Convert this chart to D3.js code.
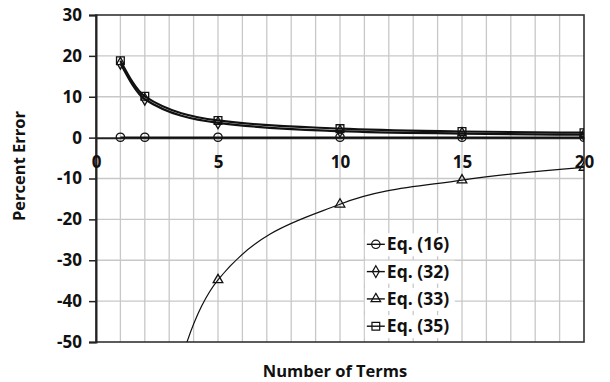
<!DOCTYPE html>
<html>
<head>
<meta charset="utf-8">
<script src="https://cdn.jsdelivr.net/npm/d3@7"></script>
<style>
  body { margin: 0; background: #fff; }
  text { font-family: "Open Sans", sans-serif; font-weight: 700; fill: #111; }
</style>
</head>
<body>
<svg id="chart" width="610" height="382"></svg>
<script>
const terms = [1, 2, 5, 10, 15, 20];
const eq16 = [0.1, 0.1, 0.1, 0.1, 0.1, 0.1];
const eq32 = [18.2, 9.4, 3.6, 1.6, 1.0, 0.7];
const eq33 = [-200, -102, -34.8, -16.3, -10.4, -7.3];
const eq35 = [18.8, 10.1, 4.2, 2.2, 1.5, 1.2];
const seriesNames = ['Eq. (16)', 'Eq. (32)', 'Eq. (33)', 'Eq. (35)'];
const xTicks = [0, 5, 10, 15, 20];
const yTicks = [30, 20, 10, 0, -10, -20, -30, -40, -50];

const series = [
  { name: seriesNames[0], values: eq16, symbol: 'circle', width: 1.6 },
  { name: seriesNames[1], values: eq32, symbol: 'diamond', width: 2.2 },
  { name: seriesNames[2], values: eq33, symbol: 'triangle', width: 1.2 },
  { name: seriesNames[3], values: eq35, symbol: 'square', width: 2.2 }
];

const margin = { top: 15, right: 26, bottom: 40, left: 96 };
const width = 610 - margin.left - margin.right;
const height = 382 - margin.top - margin.bottom;

const svg = d3.select('#chart');
const g = svg.append('g').attr('transform', `translate(${margin.left},${margin.top})`);

const x = d3.scaleLinear().domain([0, 20]).range([0, width]);
const y = d3.scaleLinear().domain([-50, 30]).range([height, 0]);

// grid
g.append('g')
  .selectAll('line')
  .data(d3.range(1, 20))
  .enter().append('line')
  .attr('x1', d => x(d)).attr('x2', d => x(d))
  .attr('y1', 0).attr('y2', height)
  .attr('stroke', '#c8c8c8').attr('stroke-width', 1.3);

g.append('g')
  .selectAll('line')
  .data(yTicks.filter(d => d !== 0 && d !== -50 && d !== 30))
  .enter().append('line')
  .attr('x1', 0).attr('x2', width)
  .attr('y1', d => y(d)).attr('y2', d => y(d))
  .attr('stroke', '#c8c8c8').attr('stroke-width', 1.3);

// frame
g.append('rect')
  .attr('width', width).attr('height', height)
  .attr('fill', 'none').attr('stroke', '#333').attr('stroke-width', 1.6);

// y axis
const yAxis = g.append('g')
  .call(d3.axisLeft(y).tickValues(yTicks).tickFormat(d => String(d)).tickSize(7).tickPadding(7));
yAxis.select('.domain').attr('stroke', '#222').attr('stroke-width', 2);
yAxis.selectAll('.tick line').attr('stroke', '#222').attr('stroke-width', 1.5);
yAxis.selectAll('text').style('font-size', '17px').attr('fill', '#111');

// x axis along zero
const xAxis = g.append('g')
  .attr('transform', `translate(0,${y(0)})`)
  .call(d3.axisBottom(x).tickValues(xTicks).tickSize(0).tickPadding(18));
xAxis.select('.domain').attr('stroke', '#222').attr('stroke-width', 2);
xAxis.selectAll('text').style('font-size', '17px').attr('fill', '#111');

// clip
svg.append('defs').append('clipPath').attr('id', 'plotclip')
  .append('rect').attr('width', width).attr('height', height);

const line = d3.line()
  .x((d, i) => x(terms[i]))
  .y(d => y(d))
  .curve(d3.curveMonotoneX);

const symbolTypes = {
  circle: d3.symbolCircle,
  diamond: d3.symbolDiamond,
  triangle: d3.symbolTriangle,
  square: d3.symbolSquare
};
const symbolSizes = { circle: 55, diamond: 40, triangle: 40, square: 60 };

const plot = g.append('g').attr('clip-path', 'url(#plotclip)');

series.forEach(s => {
  plot.append('path')
    .datum(s.values)
    .attr('d', line)
    .attr('fill', 'none')
    .attr('stroke', '#111')
    .attr('stroke-width', s.width);
});

series.forEach(s => {
  plot.selectAll(null)
    .data(s.values.map((v, i) => [terms[i], v]).filter(d => d[1] >= -50))
    .enter().append('path')
    .attr('d', d3.symbol().type(symbolTypes[s.symbol]).size(symbolSizes[s.symbol]))
    .attr('transform', d => `translate(${x(d[0])},${y(d[1])})`)
    .attr('fill', 'none')
    .attr('stroke', '#111')
    .attr('stroke-width', 1.3);
});

// legend
const legend = g.append('g').attr('transform', `translate(${x(11.1)},${y(-26.1)})`);
series.forEach((s, i) => {
  const row = legend.append('g').attr('transform', `translate(0,${i * 27.3})`);
  row.append('rect').attr('x', -2).attr('y', -11).attr('width', 90).attr('height', 23).attr('fill', '#fff');
  row.append('line').attr('x1', 0).attr('x2', 18).attr('y1', 0).attr('y2', 0)
    .attr('stroke', '#111').attr('stroke-width', 1.4);
  row.append('path')
    .attr('d', d3.symbol().type(symbolTypes[s.symbol]).size(symbolSizes[s.symbol]))
    .attr('transform', 'translate(9,0)')
    .attr('fill', 'none').attr('stroke', '#111').attr('stroke-width', 1.2);
  row.append('text')
    .attr('x', 20).attr('y', 0).attr('dy', '0.35em')
    .style('font-size', '17.5px')
    .text(s.name);
});

// titles
svg.append('text')
  .attr('x', 335).attr('y', 377)
  .attr('text-anchor', 'middle')
  .style('font-size', '16.5px')
  .text('Number of Terms');

svg.append('text')
  .attr('transform', 'translate(25,166) rotate(-90)')
  .attr('text-anchor', 'middle')
  .style('font-size', '16.5px')
  .text('Percent Error');
</script>
</body>
</html>
